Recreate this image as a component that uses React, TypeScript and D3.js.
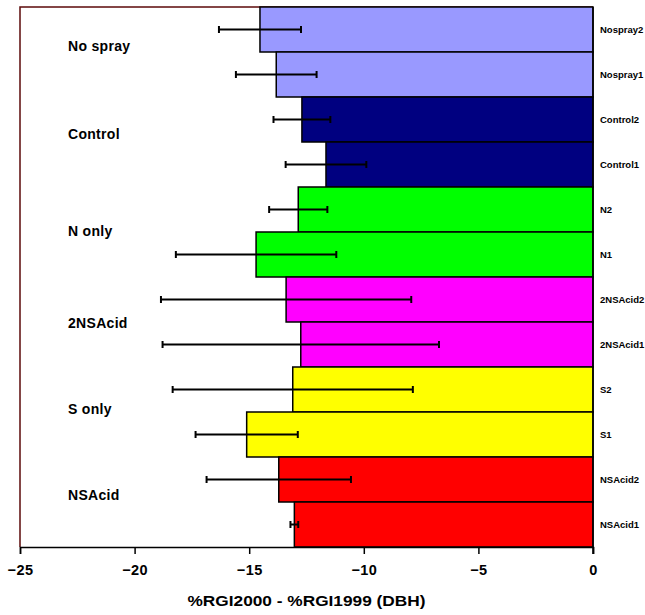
import React, { useEffect, useRef } from 'react';
import * as d3 from 'd3';

// bars listed top to bottom
const barLabels = ['Nospray2', 'Nospray1', 'Control2', 'Control1', 'N2', 'N1', '2NSAcid2', '2NSAcid1', 'S2', 'S1', 'NSAcid2', 'NSAcid1'];
const barValues = [-14.53, -13.82, -12.7, -11.65, -12.86, -14.7, -13.39, -12.75, -13.1, -15.11, -13.71, -13.03];
const barErrors = [1.79, 1.76, 1.24, 1.76, 1.27, 3.5, 5.46, 6.03, 5.24, 2.23, 3.15, 0.17];
const barGroups = ['No spray', 'No spray', 'Control', 'Control', 'N only', 'N only', '2NSAcid', '2NSAcid', 'S only', 'S only', 'NSAcid', 'NSAcid'];

const groupNames = ['No spray', 'Control', 'N only', '2NSAcid', 'S only', 'NSAcid'];
const groupColors = ['#9999ff', '#000080', '#00ff00', '#ff00ff', '#ffff00', '#ff0000'];
const xTicks = [-25, -20, -15, -10, -5, 0];
const xTitle = '%RGI2000 - %RGI1999 (DBH)';

// small vertical nudges for the group text boxes (px, relative to the pair boundary)
const groupLabelNudge = [-6, -8, -1, 1, -3, -7];

const W = 645;
const H = 615;
const margin = { top: 7, right: 52, bottom: 68, left: 20 };

const App = () => {
  const ref = useRef<SVGSVGElement>(null);

  useEffect(() => {
    const svg = d3.select(ref.current);
    svg.selectAll('*').remove();

    const x = d3.scaleLinear().domain([-25, 0]).range([margin.left, W - margin.right]);
    const y = d3.scaleBand().domain(barLabels).range([margin.top, H - margin.bottom]).padding(0);
    const color = d3.scaleOrdinal<string, string>().domain(groupNames).range(groupColors);
    const font = 'Liberation Sans, Arial, sans-serif';

    // plot area border (left + top)
    svg.append('path')
      .attr('d', `M${x(0)},${margin.top}H${x(-25)}V${H - margin.bottom}`)
      .attr('fill', 'none')
      .attr('stroke', '#5c0a0a')
      .attr('stroke-width', 1.5);

    // bars
    svg.append('g')
      .selectAll('rect')
      .data(barValues)
      .enter()
      .append('rect')
      .attr('x', (d) => x(d))
      .attr('y', (d, i) => y(barLabels[i])!)
      .attr('width', (d) => x(0) - x(d))
      .attr('height', y.bandwidth())
      .attr('fill', (d, i) => color(barGroups[i]))
      .attr('stroke', '#000')
      .attr('stroke-width', 1.5);

    // error bars
    const err = svg.append('g').attr('stroke', '#000').attr('stroke-width', 2).attr('fill', 'none');
    barValues.forEach((v, i) => {
      const cy = y(barLabels[i])! + y.bandwidth() / 2;
      const x0 = x(v - barErrors[i]);
      const x1 = x(v + barErrors[i]);
      err.append('line').attr('x1', x0).attr('x2', x1).attr('y1', cy).attr('y2', cy);
      [x0, x1].forEach((xx) =>
        err.append('line').attr('x1', xx).attr('x2', xx).attr('y1', cy - 3.5).attr('y2', cy + 3.5)
      );
    });

    // category axis at zero, labels on the right
    svg.append('line')
      .attr('x1', x(0)).attr('x2', x(0))
      .attr('y1', margin.top).attr('y2', H - margin.bottom + 7)
      .attr('stroke', '#000').attr('stroke-width', 1.5);

    svg.append('g')
      .selectAll('text')
      .data(barLabels)
      .enter()
      .append('text')
      .attr('x', x(0) + 7)
      .attr('y', (d) => y(d)! + y.bandwidth() / 2)
      .attr('dy', '0.35em')
      .attr('font-family', font)
      .attr('font-weight', 'bold')
      .attr('font-size', 9.5)
      .text((d) => d);

    // value axis
    const axis = svg.append('g')
      .attr('transform', `translate(0,${H - margin.bottom})`)
      .call(d3.axisBottom(x).tickValues(xTicks).tickSize(7).tickPadding(11).tickFormat(d3.format('d')));
    axis.select('.domain').attr('stroke', '#000').attr('stroke-width', 1.5);
    axis.selectAll('.tick line').attr('stroke', '#000').attr('stroke-width', 1.5);
    axis.selectAll('.tick text')
      .attr('font-family', font)
      .attr('font-weight', 'bold')
      .attr('font-size', 14.5)
      .attr('letter-spacing', 0.4)
      .attr('fill', '#000');

    svg.append('text')
      .attr('x', (x(-25) + x(0)) / 2)
      .attr('y', 601)
      .attr('dy', '0.35em')
      .attr('text-anchor', 'middle')
      .attr('font-family', font)
      .attr('font-weight', 'bold')
      .attr('font-size', 15)
      .attr('textLength', 238)
      .attr('lengthAdjust', 'spacingAndGlyphs')
      .text(xTitle);

    // group text boxes
    svg.append('g')
      .selectAll('text')
      .data(groupNames)
      .enter()
      .append('text')
      .attr('x', 68)
      .attr('y', (d, i) => y(barLabels[i * 2 + 1])! + groupLabelNudge[i])
      .attr('dy', '0.35em')
      .attr('font-family', font)
      .attr('font-weight', 'bold')
      .attr('font-size', 14)
      .attr('letter-spacing', 0.3)
      .text((d) => d);
  }, []);

  return (
    <svg
      ref={ref}
      width={W}
      height={H}
      style={{ position: 'absolute', left: 0, top: 0, background: '#fff' }}
    />
  );
};

export default App;
